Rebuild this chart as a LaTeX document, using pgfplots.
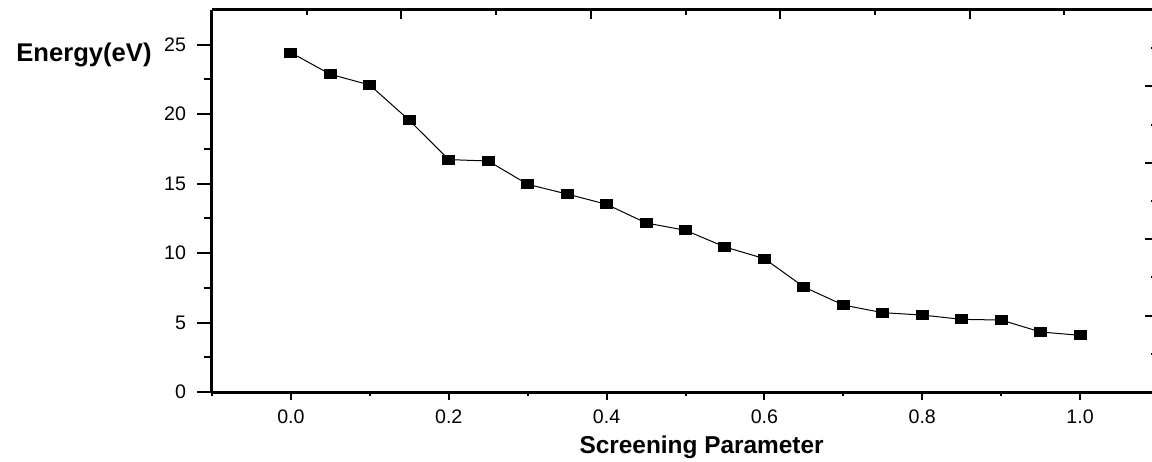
\documentclass[border=0pt]{standalone}
\usepackage{pgfplots}
\pgfplotsset{compat=1.18}
\usepackage{pgfplotstable}
\usepackage{fontspec}
\setmainfont{Liberation Sans}

\pgfplotstableread{
s E
0.00 24.43
0.05 22.87
0.10 22.10
0.15 19.56
0.20 16.73
0.25 16.63
0.30 14.95
0.35 14.25
0.40 13.51
0.45 12.17
0.50 11.64
0.55 10.44
0.60 9.60
0.65 7.56
0.70 6.26
0.75 5.71
0.80 5.54
0.85 5.23
0.90 5.18
0.95 4.32
1.00 4.08
}\energy

\pgfplotsset{
  frame/.style={
    width=473.5pt, height=191pt, scale only axis,
    axis line style={line width=1.5pt, black},
    tick style={line width=1pt, black},
    /pgf/number format/assume math mode=true,
    tick label style={font=\fontsize{9.8}{11}\selectfont},
    clip=false,
  },
}

\begin{document}
\begin{tikzpicture}
% bottom x axis
\begin{axis}[frame, name=main,
    xmin=-0.1, xmax=1.1, ymin=0, ymax=27.5,
    axis x line*=bottom, hide y axis,
    xtick={0,0.2,0.4,0.6,0.8,1.0},
    minor xtick={-0.1,0.1,0.3,0.5,0.7,0.9,1.1},
    tick align=outside,
    major tick length=4pt, minor tick length=2pt,
    xticklabel style={yshift=-1.5pt, /pgf/number format/.cd, fixed, fixed zerofill, precision=1},
  ]
  \node[font=\fontsize{12.2}{14}\selectfont\bfseries, anchor=center, yshift=-27.5pt]
    at (rel axis cs:0.517,0) {Screening Parameter};
\end{axis}
% left y axis with the data
\begin{axis}[frame,
    xmin=-0.1, xmax=1.1, ymin=0, ymax=27.5,
    axis y line*=left, hide x axis,
    ytick={0,5,10,15,20,25},
    minor ytick={2.5,7.5,12.5,17.5,22.5},
    tick align=outside,
    major tick length=7.5pt, minor tick length=4pt,
    yticklabel style={xshift=-2pt},
  ]
  \addplot[black, line width=0.5pt, mark=square*, mark size=2.25pt,
    mark options={xscale=1.33, fill=black, line width=0pt}]
    table[x=s, y=E]{\energy};
  \node[font=\fontsize{12.8}{14}\selectfont\bfseries, anchor=center, xshift=-64pt]
    at (rel axis cs:0,0.882) {Energy(eV)};
\end{axis}
% top axis
\begin{axis}[frame,
    xmin=0, xmax=10, ymin=0, ymax=10,
    axis x line*=top, hide y axis,
    xtick={2,4,6,8}, minor xtick={1,3,5,7,9},
    xticklabels={},
    tick align=inside,
    major tick length=4.5pt, minor tick length=2.5pt,
  ]
\end{axis}
% right axis
\begin{axis}[frame,
    xmin=0, xmax=10, ymin=0, ymax=10,
    axis y line*=right, hide x axis,
    ytick={2,4,6,8}, minor ytick={1,3,5,7,9},
    yticklabels={},
    tick align=inside,
    major tick length=7pt, minor tick length=4pt,
  ]
\end{axis}
\pgfresetboundingbox
\path[use as bounding box] ([xshift=-106pt,yshift=-34.5pt]main.south west)
  rectangle ([xshift=470pt,yshift=196pt]main.south west);
\end{tikzpicture}
\end{document}
